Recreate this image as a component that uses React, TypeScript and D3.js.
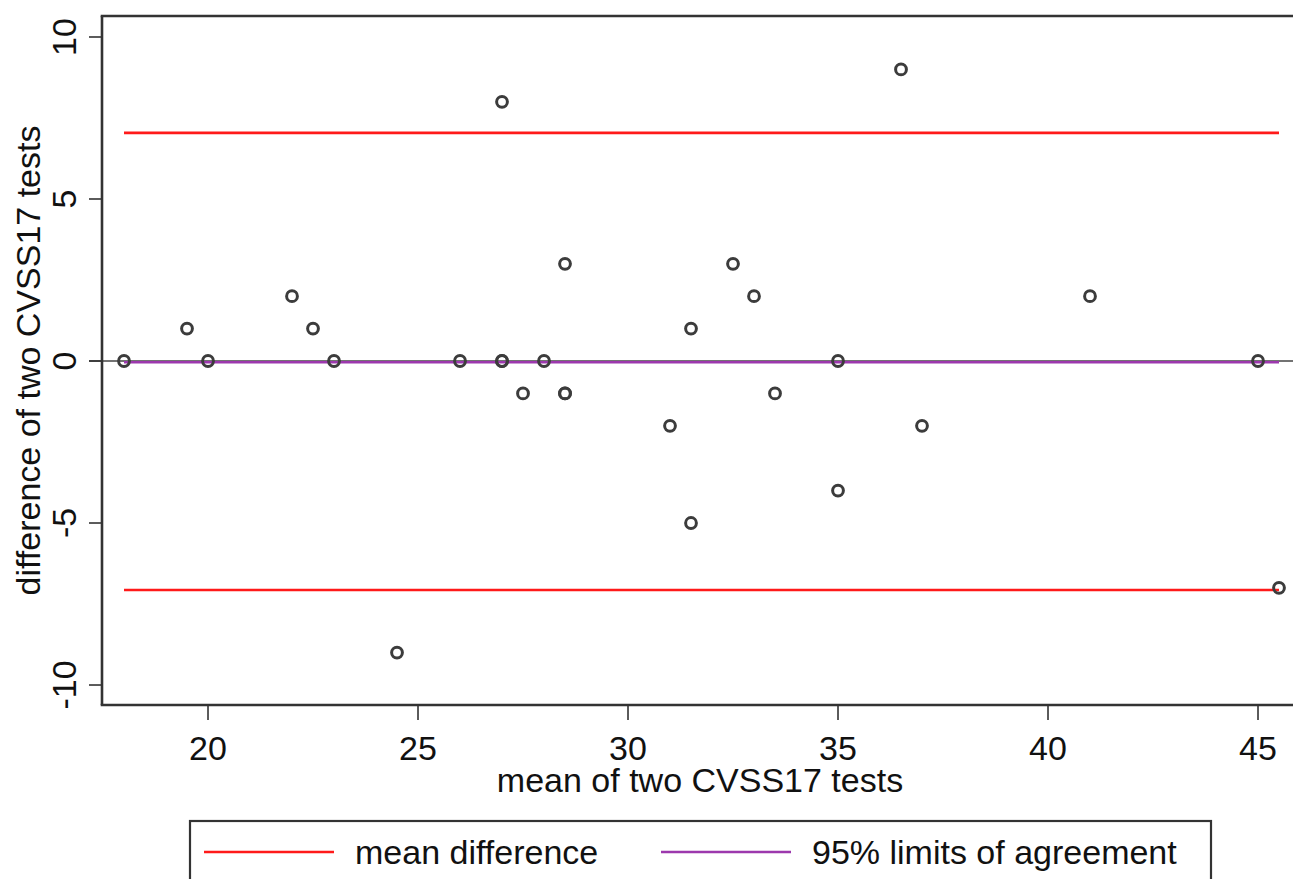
import React from "react";
import * as d3 from "d3";

const meanOfTests = [18, 19.5, 20, 22, 22.5, 23, 24.5, 26, 27, 27, 27, 27.5, 28, 28.5, 28.5, 28.5, 31, 31.5, 31.5, 32.5, 33, 33.5, 35, 35, 36.5, 37, 41, 45, 45.5];
const diffOfTests = [0, 1, 0, 2, 1, 0, -9, 0, 8, 0, 0, -1, 0, 3, -1, -1, -2, 1, -5, 3, 2, -1, 0, -4, 9, -2, 2, 0, -7];
const xTicks = [20, 25, 30, 35, 40, 45];
const yTicks = [-10, -5, 0, 5, 10];
const upperLimit = 7.04;
const lowerLimit = -7.07;
const meanDiff = -0.04;
const legendLabels = ["mean difference", "95% limits of agreement"];

const W = 1293;
const H = 879;
const left = 102;
const top = 16;
const bottom = 705;
const right = 1310;
const FONT = "Arial, 'Liberation Sans', sans-serif";
const AX = "#333";
const RED = "#ff1a1a";
const PURPLE = "#9c38ad";

export default function App() {
  const x = d3.scaleLinear().domain([17.476, 46.238]).range([left, right]);
  const y = d3.scaleLinear().domain([-10.617, 10.648]).range([bottom, top]);
  const xMin = d3.min(meanOfTests)!;
  const xMax = d3.max(meanOfTests)!;
  const pts = meanOfTests.map((m, i) => ({ m, d: diffOfTests[i] }));

  return (
    <svg width={W} height={H} style={{ position: "absolute", left: 0, top: 0, background: "#fff" }} fontFamily={FONT}>
      <rect x={0} y={0} width={W} height={H} fill="#fff" />
      {/* zero reference line */}
      <line x1={left - 13} x2={W} y1={y(0)} y2={y(0)} stroke="#444" strokeWidth={1.6} />
      {/* limit lines */}
      <line x1={x(xMin)} x2={x(xMax)} y1={y(upperLimit)} y2={y(upperLimit)} stroke={RED} strokeWidth={2.6} />
      <line x1={x(xMin)} x2={x(xMax)} y1={y(lowerLimit)} y2={y(lowerLimit)} stroke={RED} strokeWidth={2.6} />
      <line x1={x(xMin)} x2={x(xMax)} y1={y(meanDiff)} y2={y(meanDiff)} stroke={PURPLE} strokeWidth={2.6} />
      {/* points */}
      {pts.map((p, i) => (
        <circle key={i} cx={x(p.m)} cy={y(p.d)} r={5.4} fill="none" stroke="#3c3c3c" strokeWidth={3} />
      ))}
      {/* frame */}
      <line x1={left} x2={left} y1={top} y2={bottom} stroke={AX} strokeWidth={2.6} />
      <line x1={left - 1.3} x2={W} y1={top} y2={top} stroke={AX} strokeWidth={2.6} />
      <line x1={left - 1.3} x2={W} y1={bottom} y2={bottom} stroke={AX} strokeWidth={2.6} />
      {/* y ticks */}
      {yTicks.map((t) => (
        <g key={t}>
          <line x1={left - 13} x2={left} y1={y(t)} y2={y(t)} stroke={AX} strokeWidth={1.6} />
          <text transform={`translate(76,${y(t)}) rotate(-90)`} textAnchor="middle" fontSize={34} fill="#111">
            {t}
          </text>
        </g>
      ))}
      {/* x ticks */}
      {xTicks.map((t) => (
        <g key={t}>
          <line x1={x(t)} x2={x(t)} y1={bottom} y2={bottom + 15} stroke={AX} strokeWidth={1.6} />
          <text x={x(t)} y={760} textAnchor="middle" fontSize={34} fill="#111">
            {t}
          </text>
        </g>
      ))}
      <text x={700} y={792} textAnchor="middle" fontSize={34} fill="#111">
        mean of two CVSS17 tests
      </text>
      <text transform={`translate(40,${(top + bottom) / 2}) rotate(-90)`} textAnchor="middle" fontSize={34} fill="#111">
        difference of two CVSS17 tests
      </text>
      {/* legend */}
      <rect x={190} y={821} width={1021} height={100} fill="#fff" stroke={AX} strokeWidth={2.2} />
      <line x1={204} x2={334} y1={852} y2={852} stroke={RED} strokeWidth={2.6} />
      <text x={355} y={864} fontSize={34} fill="#111">
        {legendLabels[0]}
      </text>
      <line x1={661} x2={791} y1={852} y2={852} stroke={PURPLE} strokeWidth={2.6} />
      <text x={812} y={864} fontSize={34} fill="#111">
        {legendLabels[1]}
      </text>
    </svg>
  );
}
